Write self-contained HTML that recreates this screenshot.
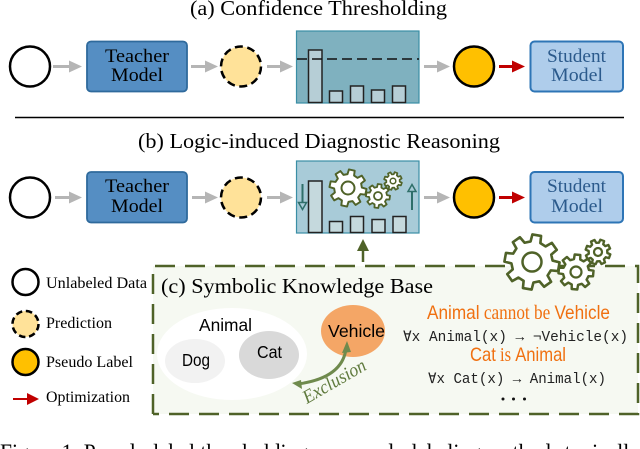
<!DOCTYPE html>
<html>
<head>
<meta charset="utf-8">
<style>
html,body{margin:0;padding:0;background:#fff;width:640px;height:449px;overflow:hidden}
svg{display:block}
.s{font-family:"Liberation Serif",serif;fill:#000}
.a{font-family:"Liberation Sans",sans-serif;fill:#000}
.m{font-family:"Liberation Mono",monospace;fill:#222}
</style>
</head>
<body>
<svg width="640" height="449" viewBox="0 0 640 449" xmlns="http://www.w3.org/2000/svg">
<defs>
<path id="gear" stroke-linejoin="round" d="M7.28,-1.81L9.9,-1.6L9.9,1.6L7.28,1.81L6.43,3.86L8.1,5.9L5.9,8.1L3.86,6.43L1.81,7.28L1.6,9.9L-1.6,9.9L-1.81,7.28L-3.86,6.43L-5.9,8.1L-8.1,5.9L-6.43,3.86L-7.28,1.81L-9.9,1.6L-9.9,-1.6L-7.28,-1.81L-6.43,-3.86L-8.1,-5.9L-5.9,-8.1L-3.86,-6.43L-1.81,-7.28L-1.6,-9.9L1.6,-9.9L1.81,-7.28L3.86,-6.43L5.9,-8.1L8.1,-5.9L6.43,-3.86Z"/>
</defs>

<text class="s" x="190" y="15" font-size="21.5" textLength="257" lengthAdjust="spacingAndGlyphs">(a) Confidence Thresholding</text>

<!-- Row A -->
<circle cx="30" cy="66.500" r="20" fill="#fff" stroke="#000" stroke-width="2.500"/>
<path d="M53,66.500H71" stroke="#b5b5b5" stroke-width="3"/><path d="M69,60.500L82,66.500L69,72.500Z" fill="#b5b5b5"/>
<rect x="87" y="41.500" width="100" height="50" rx="4" fill="#558ec3" stroke="#2f6a9c" stroke-width="1.800"/>
<text class="s" x="105" y="62" font-size="19" textLength="64" lengthAdjust="spacingAndGlyphs">Teacher</text>
<text class="s" x="111" y="81" font-size="19" textLength="52" lengthAdjust="spacingAndGlyphs">Model</text>
<path d="M191,66.500H208" stroke="#b5b5b5" stroke-width="3"/><path d="M205,60.500L218,66.500L205,72.500Z" fill="#b5b5b5"/>
<circle cx="241" cy="66.500" r="20" fill="#ffe299" stroke="#000" stroke-width="2.500" stroke-dasharray="8 4.560"/>
<path d="M267,66.500H284" stroke="#b5b5b5" stroke-width="3"/><path d="M280,60.500L293,66.500L280,72.500Z" fill="#b5b5b5"/>
<rect x="296.500" y="31" width="122.500" height="72" fill="#7fb1bf" stroke="#3a8ea5" stroke-width="1.200"/>
<g fill="#b6ced6" stroke="#222" stroke-width="1.500">
<rect x="308.500" y="50" width="13.500" height="52.500"/>
<rect x="329.500" y="91" width="13" height="11.500"/>
<rect x="350.500" y="86" width="13" height="16.500"/>
<rect x="371.500" y="90" width="13" height="12.500"/>
<rect x="392.500" y="86" width="13" height="16.500"/>
</g>
<path d="M297,59H419" stroke="#111" stroke-width="1.500" stroke-dasharray="10 5"/>
<path d="M424,66.500H441" stroke="#b5b5b5" stroke-width="3"/><path d="M437,60.500L450,66.500L437,72.500Z" fill="#b5b5b5"/>
<circle cx="474" cy="66.500" r="20" fill="#ffc000" stroke="#000" stroke-width="2.500"/>
<path d="M499,66.500H516" stroke="#c00000" stroke-width="3"/><path d="M512,60.500L525,66.500L512,72.500Z" fill="#c00000"/>
<rect x="530.500" y="41.500" width="92.500" height="50" rx="4" fill="#afcdeb" stroke="#2e75b6" stroke-width="2"/>
<text class="s" x="547" y="62" font-size="19" style="fill:#2b5a8c" textLength="59" lengthAdjust="spacingAndGlyphs">Student</text>
<text class="s" x="551" y="81" font-size="19" style="fill:#2b5a8c" textLength="52" lengthAdjust="spacingAndGlyphs">Model</text>

<path d="M15,117.500H624" stroke="#000" stroke-width="1.600"/>

<text class="s" x="138" y="148" font-size="21.5" textLength="362" lengthAdjust="spacingAndGlyphs">(b) Logic-induced Diagnostic Reasoning</text>

<!-- Row B -->
<circle cx="30" cy="197.500" r="20" fill="#fff" stroke="#000" stroke-width="2.500"/>
<path d="M55,197.500H72" stroke="#b5b5b5" stroke-width="3"/><path d="M69,191.500L82,197.500L69,203.500Z" fill="#b5b5b5"/>
<rect x="87" y="172" width="100" height="50.500" rx="4" fill="#558ec3" stroke="#2f6a9c" stroke-width="1.800"/>
<text class="s" x="105" y="192" font-size="19" textLength="64" lengthAdjust="spacingAndGlyphs">Teacher</text>
<text class="s" x="111" y="212" font-size="19" textLength="52" lengthAdjust="spacingAndGlyphs">Model</text>
<path d="M192,197.500H209" stroke="#b5b5b5" stroke-width="3"/><path d="M205,191.500L218,197.500L205,203.500Z" fill="#b5b5b5"/>
<circle cx="241" cy="197.500" r="20" fill="#ffe299" stroke="#000" stroke-width="2.500" stroke-dasharray="8 4.560"/>
<path d="M267,197.500H284" stroke="#b5b5b5" stroke-width="3"/><path d="M280,191.500L293,197.500L280,203.500Z" fill="#b5b5b5"/>
<rect x="296.500" y="161" width="122.500" height="72" fill="#a8cbd8" stroke="#3a8ea5" stroke-width="1.200"/>
<g fill="#c5d9dd" stroke="#222" stroke-width="1.500">
<rect x="308.500" y="181" width="13.500" height="51.500"/>
<rect x="329.500" y="221.500" width="13" height="11"/>
<rect x="350.500" y="216.500" width="13" height="16"/>
<rect x="372" y="219.500" width="13" height="13"/>
<rect x="393" y="216.500" width="13" height="16"/>
</g>
<path d="M302.500,184V203" stroke="#2f6f6a" stroke-width="2"/>
<path d="M298.500,202.500H306.500L302.500,209.500Z" fill="none" stroke="#2f6f6a" stroke-width="1.500"/>
<path d="M412,210V191" stroke="#2f6f6a" stroke-width="2"/>
<path d="M408,191.500H416L412,184.500Z" fill="none" stroke="#2f6f6a" stroke-width="1.500"/>
<g fill="#fff" stroke="#4f6228">
<use href="#gear" transform="translate(348,188) scale(1.850) rotate(12)" stroke-width="1.050"/>
<circle cx="348" cy="188" r="6.500" stroke-width="2"/>
<use href="#gear" transform="translate(378,196) scale(1.200) rotate(8)" stroke-width="1.500"/>
<circle cx="378" cy="196" r="4" stroke-width="1.800"/>
<use href="#gear" transform="translate(393,181) scale(.9) rotate(20)" stroke-width="1.900"/>
<circle cx="393" cy="181" r="2.800" stroke-width="1.500"/>
</g>
<path d="M424,197.500H441" stroke="#b5b5b5" stroke-width="3"/><path d="M437,191.500L450,197.500L437,203.500Z" fill="#b5b5b5"/>
<circle cx="474" cy="197.500" r="20" fill="#ffc000" stroke="#000" stroke-width="2.500"/>
<path d="M499,197.500H516" stroke="#c00000" stroke-width="3"/><path d="M512,191.500L525,197.500L512,203.500Z" fill="#c00000"/>
<rect x="530.500" y="172" width="92.500" height="50.500" rx="4" fill="#afcdeb" stroke="#2e75b6" stroke-width="2"/>
<text class="s" x="547" y="192" font-size="19" style="fill:#2b5a8c" textLength="59" lengthAdjust="spacingAndGlyphs">Student</text>
<text class="s" x="551" y="212" font-size="19" style="fill:#2b5a8c" textLength="52" lengthAdjust="spacingAndGlyphs">Model</text>

<!-- Up arrow to chart -->
<path d="M363,262V248" stroke="#4f6228" stroke-width="2.500"/>
<path d="M357,251H369L363,239Z" fill="#4f6228"/>

<!-- Legend -->
<circle cx="25.500" cy="282" r="13" fill="#fff" stroke="#000" stroke-width="2.500"/>
<circle cx="25.500" cy="324" r="13" fill="#ffe299" stroke="#000" stroke-width="2.500" stroke-dasharray="6.500 3.700"/>
<circle cx="25.500" cy="362" r="13" fill="#ffc000" stroke="#000" stroke-width="2.500"/>
<path d="M13,399H30" stroke="#c00000" stroke-width="2"/><path d="M27,393L39,399L27,405Z" fill="#c00000"/>
<text class="s" x="46" y="288" font-size="16" textLength="101" lengthAdjust="spacingAndGlyphs">Unlabeled Data</text>
<text class="s" x="46" y="328" font-size="16" textLength="66" lengthAdjust="spacingAndGlyphs">Prediction</text>
<text class="s" x="46" y="367" font-size="16" textLength="87" lengthAdjust="spacingAndGlyphs">Pseudo Label</text>
<text class="s" x="46" y="402" font-size="16" textLength="84" lengthAdjust="spacingAndGlyphs">Optimization</text>

<!-- Knowledge base -->
<rect x="153" y="266" width="485" height="148" fill="#f6f9f2"/>
<path d="M153,414V266H638V414H153" fill="none" stroke="#4f6228" stroke-width="2.500" stroke-dasharray="20 10"/>
<g fill="#fff" stroke="#4f6228">
<use href="#gear" transform="translate(532,262) scale(2.750) rotate(10)" stroke-width=".95"/>
<circle cx="532" cy="262" r="9.500" stroke-width="2.500"/>
<use href="#gear" transform="translate(576,272) scale(1.750) rotate(5)" stroke-width="1.400"/>
<circle cx="576" cy="272" r="5.500" stroke-width="2.200"/>
<use href="#gear" transform="translate(598,252) scale(1.250) rotate(20)" stroke-width="1.900"/>
<circle cx="598" cy="252" r="4" stroke-width="2.200"/>
</g>

<text class="s" x="161" y="293" font-size="21.5" textLength="272" lengthAdjust="spacingAndGlyphs">(c) Symbolic Knowledge Base</text>

<ellipse cx="232" cy="354" rx="75" ry="46" fill="#fff"/>
<ellipse cx="195" cy="361" rx="30" ry="22" fill="#f2f2f2"/>
<ellipse cx="269" cy="355" rx="30" ry="24" fill="#d9d9d9"/>
<ellipse cx="353" cy="331" rx="32" ry="26" fill="#f4a666"/>
<text class="a" x="199" y="331" font-size="17.500" textLength="53" lengthAdjust="spacingAndGlyphs">Animal</text>
<text class="a" x="182" y="366" font-size="17.500" textLength="28" lengthAdjust="spacingAndGlyphs">Dog</text>
<text class="a" x="257" y="358" font-size="17.500" textLength="25" lengthAdjust="spacingAndGlyphs">Cat</text>
<text class="a" x="328" y="337" font-size="17.500" textLength="57" lengthAdjust="spacingAndGlyphs">Vehicle</text>

<path d="M298,384Q342,378 346,349" fill="none" stroke="#6f8a4d" stroke-width="3"/>
<path d="M342,353L351,352L347,341Z" fill="#6f8a4d"/>
<path d="M301,380L302,389L292,383Z" fill="#6f8a4d"/>
<text class="s" transform="translate(307,404) rotate(-30)" font-size="19" font-style="italic" style="fill:#5f7a3d" textLength="70" lengthAdjust="spacingAndGlyphs">Exclusion</text>

<text x="427" y="319" font-size="19.500" style="fill:#f07010" textLength="183" lengthAdjust="spacingAndGlyphs"><tspan font-family="Liberation Sans, sans-serif">Animal</tspan><tspan font-family="Liberation Serif, serif"> cannot be </tspan><tspan font-family="Liberation Sans, sans-serif">Vehicle</tspan></text>
<text class="m" x="403" y="341" font-size="14.500" textLength="225" lengthAdjust="spacingAndGlyphs">∀x Animal(x) → ¬Vehicle(x)</text>
<text x="470" y="361" font-size="19.500" style="fill:#f07010" textLength="96" lengthAdjust="spacingAndGlyphs"><tspan font-family="Liberation Sans, sans-serif">Cat</tspan><tspan font-family="Liberation Serif, serif"> is </tspan><tspan font-family="Liberation Sans, sans-serif">Animal</tspan></text>
<text class="m" x="428" y="383" font-size="14.500" textLength="178" lengthAdjust="spacingAndGlyphs">∀x Cat(x) → Animal(x)</text>
<circle cx="503" cy="399" r="1.500" fill="#111"/><circle cx="513.500" cy="399" r="1.500" fill="#111"/><circle cx="524.500" cy="399" r="1.500" fill="#111"/>

<!-- Caption (clipped) -->
<text class="s" x="0" y="460" font-size="23" textLength="640" lengthAdjust="spacingAndGlyphs">Figure 1: Pseudo-label thresholding vs. pseudo-labeling methods typically</text>
</svg>
</body>
</html>
